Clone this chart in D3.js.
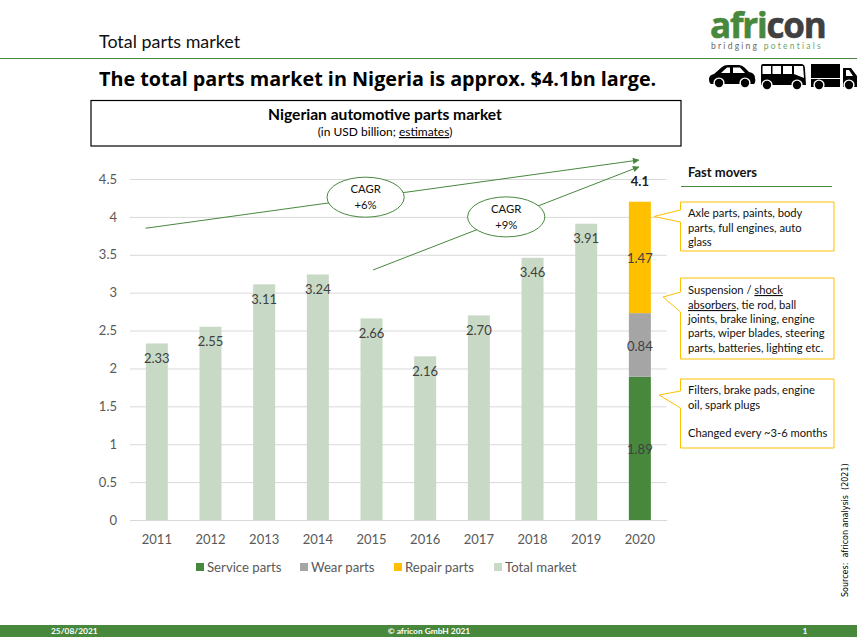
<!DOCTYPE html>
<html>
<head>
<meta charset="utf-8">
<script src="https://cdn.jsdelivr.net/npm/d3@7"></script>
<style>
  html, body { margin: 0; padding: 0; background: #fff; }
  svg { display: block; }
  text { font-family: Lato, sans-serif; }
</style>
</head>
<body>
<div id="chart"></div>
<script>
// data
const years = ['2011','2012','2013','2014','2015','2016','2017','2018','2019','2020'];
const totalMarket = [2.33, 2.55, 3.11, 3.24, 2.66, 2.16, 2.70, 3.46, 3.91, null];
const totalLabels = ['2.33','2.55','3.11','3.24','2.66','2.16','2.70','3.46','3.91',''];
const stackYear = '2020';
const stackNames = ['Service parts', 'Wear parts', 'Repair parts'];
const stackValues = [1.89, 0.84, 1.47];
const stackLabels = ['1.89', '0.84', '1.47'];
const stackTotalLabel = '4.1';
const yTicks = [0, 0.5, 1, 1.5, 2, 2.5, 3, 3.5, 4, 4.5];
const legendNames = ['Service parts', 'Wear parts', 'Repair parts', 'Total market'];

const green = '#47883d', grey = '#a5a5a5', yellow = '#ffc000', pale = '#c8dac5';
const legendColors = [green, grey, yellow, pale];
const stackColors = [green, grey, yellow];

const width = 857, height = 644;
const svg = d3.select('#chart').append('svg').attr('width', width).attr('height', height);

// header
svg.append('line').attr('x1', 0).attr('x2', width).attr('y1', 58.5).attr('y2', 58.5)
  .attr('stroke', green).attr('stroke-width', 1);
svg.append('text').attr('x', 99).attr('y', 48).attr('font-size', 17.9).attr('fill', '#111')
  .text('Total parts market');
svg.append('text').attr('x', 99).attr('y', 86).attr('font-size', 19.8).attr('font-weight', 700)
  .style('font-family', '"Open Sans", sans-serif').attr('fill', '#000')
  .text('The total parts market in Nigeria is approx. $4.1bn large.');

// logo
const logo = svg.append('g');
logo.append('text').attr('x', 710).attr('y', 38).attr('font-size', 35).attr('font-weight', 700)
  .style('font-family', '"Open Sans", sans-serif').attr('letter-spacing', -1.2)
  .attr('stroke-width', 0.6)
  .call(t => {
    t.append('tspan').attr('fill', green).attr('stroke', green).text('afri');
    t.append('tspan').attr('fill', '#404040').attr('stroke', '#404040').text('con');
  });
logo.append('text').attr('x', 711).attr('y', 49).attr('font-size', 8.5).attr('letter-spacing', 2.25)
  .call(t => {
    t.append('tspan').attr('fill', '#666').text('bridging ');
    t.append('tspan').attr('fill', '#6fa565').text('potentials');
  });

// vehicle icons
const icons = svg.append('g').attr('fill', '#000');
const wheel = (x, y) => {
  icons.append('circle').attr('cx', x).attr('cy', y).attr('r', 5.6).attr('fill', '#fff');
  icons.append('circle').attr('cx', x).attr('cy', y).attr('r', 4.2);
};
icons.append('path').attr('fill-rule', 'evenodd')
  .attr('d', 'M709 79 Q709 75 714 74 L722 67 Q724 65 728 65 L739 65 Q742 65 745 68 L749 72 Q755 73 755 78 Q756 82 754 84 L711 84 Q709 83 709 79 Z M721 73 L730 73 L730 67.5 L727 67.5 Z M733 67.5 L733 73 L745 73 L740 67.5 Z');
wheel(719, 83); wheel(745, 83);
icons.append('path').attr('fill-rule', 'evenodd')
  .attr('d', 'M761 66 Q761 64 763 64 L801 64 Q805 64 805 69 L806 85 L761 85 Z M762.5 66 L771 66 L771 74 L762.5 74 Z M772.5 66 L781 66 L781 74 L772.5 74 Z M783 66 L792 66 L792 74 L783 74 Z M794 66 L803 66 L804 78 L794 74 Z');
wheel(767, 85); wheel(797, 85);
icons.append('rect').attr('x', 811).attr('y', 64).attr('width', 29).attr('height', 14);
icons.append('rect').attr('x', 811).attr('y', 79).attr('width', 29).attr('height', 8);
icons.append('path').attr('fill-rule', 'evenodd')
  .attr('d', 'M843 68 L851 68 L857 76 L857 87 L843 87 Z M846 70 L846 76 L853 76 L849 70 Z');
wheel(819, 85); wheel(849, 85);

// chart title box
svg.append('rect').attr('x', 91).attr('y', 100.5).attr('width', 590).attr('height', 45.5)
  .attr('fill', '#fff').attr('stroke', '#000').attr('stroke-width', 1.2);
svg.append('text').attr('x', 385).attr('y', 120).attr('text-anchor', 'middle')
  .attr('font-size', 15.6).attr('font-weight', 700).attr('fill', '#000')
  .text('Nigerian automotive parts market');
const sub = svg.append('text').attr('x', 385).attr('y', 136).attr('text-anchor', 'middle')
  .attr('font-size', 12).attr('fill', '#000');
sub.append('tspan').text('(in USD billion; ');
sub.append('tspan').attr('text-decoration', 'underline').text('estimates');
sub.append('tspan').text(')');

// scales
const x = d3.scaleBand().domain(years).range([130, 666.7]).paddingInner(0.59).paddingOuter(0.295);
const y = d3.scaleLinear().domain([0, 4.5]).range([520, 179]);
// position along the category axis, for the trend arrows (0 = first year)
const xIdx = d3.scaleLinear().domain([0, 9])
  .range([x(years[0]) + x.bandwidth() / 2, x(years[9]) + x.bandwidth() / 2]);

// axes
const yAxis = d3.axisLeft(y).tickValues(yTicks).tickSize(-(666.7 - 130)).tickPadding(13).tickFormat(d => d);
const gy = svg.append('g').attr('transform', 'translate(130,0)').call(yAxis);
gy.select('.domain').remove();
gy.selectAll('line').attr('stroke', '#d9d9d9');
gy.selectAll('text').attr('font-size', 13).attr('fill', '#595959').style('font-family', 'Lato, sans-serif');

const xAxis = d3.axisBottom(x).tickSize(0).tickPadding(15);
const gx = svg.append('g').attr('transform', 'translate(0,520)').call(xAxis);
gx.select('.domain').attr('stroke', '#d9d9d9');
gx.selectAll('text').attr('font-size', 13).attr('fill', '#595959').style('font-family', 'Lato, sans-serif');

// total market bars
const totals = years.map((yr, i) => ({ yr, v: totalMarket[i], label: totalLabels[i] })).filter(d => d.v != null);
svg.append('g').selectAll('rect').data(totals).join('rect')
  .attr('x', d => x(d.yr)).attr('width', x.bandwidth())
  .attr('y', d => y(d.v)).attr('height', d => y(0) - y(d.v))
  .attr('fill', pale);
svg.append('g').selectAll('text').data(totals).join('text')
  .attr('x', d => x(d.yr) + x.bandwidth() / 2).attr('y', d => y(d.v) + 19.5)
  .attr('text-anchor', 'middle').attr('font-size', 13).attr('fill', '#404040')
  .text(d => d.label);

// stacked last year
let acc = 0;
const segs = stackValues.map((v, i) => {
  const s = { name: stackNames[i], y0: acc, y1: acc + v, color: stackColors[i], label: stackLabels[i] };
  acc += v;
  return s;
});
svg.append('g').selectAll('rect').data(segs).join('rect')
  .attr('x', x(stackYear)).attr('width', x.bandwidth())
  .attr('y', d => y(d.y1)).attr('height', d => y(d.y0) - y(d.y1))
  .attr('fill', d => d.color);
svg.append('g').selectAll('text').data(segs).join('text')
  .attr('x', x(stackYear) + x.bandwidth() / 2).attr('y', d => y((d.y0 + d.y1) / 2) + 6)
  .attr('text-anchor', 'middle').attr('font-size', 13).attr('fill', '#404040')
  .text(d => d.label);
svg.append('text').attr('x', x(stackYear) + x.bandwidth() / 2).attr('y', 186)
  .attr('text-anchor', 'middle').attr('font-size', 13).attr('font-weight', 700).attr('fill', '#222')
  .text(stackTotalLabel);

// CAGR arrows
svg.append('defs').append('marker').attr('id', 'arrow').attr('viewBox', '0 0 10 10')
  .attr('refX', 9).attr('refY', 5).attr('markerWidth', 9).attr('markerHeight', 6.5)
  .attr('orient', 'auto').attr('markerUnits', 'strokeWidth')
  .append('path').attr('d', 'M0 0 L10 5 L0 10 Z').attr('fill', green);

const cagr = [
  { from: [-0.21, 3.85], to: [8.98, 4.75], at: [3.89, 4.26], text: ['CAGR', '+6%'] },
  { from: [4.03, 3.30], to: [8.98, 4.66], at: [6.51, 4.0], text: ['CAGR', '+9%'] }
];
const arrows = svg.append('g');
cagr.forEach(c => {
  arrows.append('line')
    .attr('x1', xIdx(c.from[0])).attr('y1', y(c.from[1]))
    .attr('x2', xIdx(c.to[0])).attr('y2', y(c.to[1]))
    .attr('stroke', green).attr('stroke-width', 1).attr('marker-end', 'url(#arrow)');
  const cx = xIdx(c.at[0]), cy = y(c.at[1]);
  arrows.append('ellipse').attr('cx', cx).attr('cy', cy).attr('rx', 38.6).attr('ry', 20)
    .attr('fill', '#fff').attr('stroke', green).attr('stroke-width', 1);
  c.text.forEach((t, i) => {
    arrows.append('text').attr('x', cx).attr('y', cy - 4 + i * 16).attr('text-anchor', 'middle')
      .attr('font-size', 11.3).attr('fill', '#111').text(t);
  });
});

// fast movers
svg.append('text').attr('x', 688).attr('y', 177).attr('font-size', 13).attr('font-weight', 700)
  .attr('fill', '#111').text('Fast movers');
svg.append('line').attr('x1', 681).attr('x2', 832).attr('y1', 186.5).attr('y2', 186.5)
  .attr('stroke', green).attr('stroke-width', 1);

const callouts = [
  { top: 202, bottom: 251, pointer: [210, 654, 216.5, 222], lines: [[['Axle parts, paints, body']], [['parts, full engines, auto']], [['glass']]], ys: [217, 232, 246] },
  { top: 278, bottom: 359, pointer: [292, 663, 297, 312], lines: [[['Suspension / '], ['shock', 1]], [['absorbers', 1], [', tie rod, ball']], [['joints, brake lining, engine']], [['parts, wiper blades, steering']], [['parts, batteries, lighting etc.']]], ys: [294, 309, 323, 337, 352] },
  { top: 379, bottom: 448, pointer: [391, 659, 395, 408], lines: [[['Filters, brake pads, engine']], [['oil, spark plugs']], [['Changed every ~3-6 months']]], ys: [394, 409, 437] }
];
const boxL = 680.5, boxR = 834;
callouts.forEach(c => {
  const p = c.pointer;
  svg.append('path')
    .attr('d', `M${boxL} ${c.top} L${boxR} ${c.top} L${boxR} ${c.bottom} L${boxL} ${c.bottom} L${boxL} ${p[3]} L${p[1]} ${p[2]} L${boxL} ${p[0]} Z`)
    .attr('fill', '#fff').attr('stroke', yellow).attr('stroke-width', 1);
  c.lines.forEach((ln, i) => {
    const t = svg.append('text').attr('x', 688).attr('y', c.ys[i]).attr('font-size', 11.2).attr('fill', '#111');
    ln.forEach(part => {
      const s = t.append('tspan').text(part[0]);
      if (part[1]) s.attr('text-decoration', 'underline');
    });
  });
});

// sources
svg.append('text').attr('transform', 'translate(848,597) rotate(-90)')
  .attr('font-size', 8).attr('fill', '#000').style('font-family', '"DejaVu Sans", sans-serif')
  .style('white-space', 'pre')
  .text('Sources:  africon analysis  (2021)');

// legend
const legendX = [196, 300, 394, 494];
const legend = svg.append('g').selectAll('g').data(legendNames).join('g')
  .attr('transform', (d, i) => `translate(${legendX[i]},563)`);
legend.append('rect').attr('width', 8).attr('height', 8).attr('fill', (d, i) => legendColors[i]);
legend.append('text').attr('x', 11).attr('y', 9).attr('font-size', 13.2).attr('fill', '#595959').text(d => d);

// footer
svg.append('rect').attr('x', 0).attr('y', 625).attr('width', width).attr('height', 12).attr('fill', green);
const foot = [['25/08/2021', 51, 'start'], ['\u00a9 africon GmbH 2021', 429, 'middle'], ['1', 805, 'middle']];
svg.append('g').selectAll('text').data(foot).join('text')
  .attr('x', d => d[1]).attr('y', 634).attr('text-anchor', d => d[2])
  .attr('font-size', 8.4).attr('font-weight', 700).attr('fill', '#fff').text(d => d[0]);
</script>
</body>
</html>
